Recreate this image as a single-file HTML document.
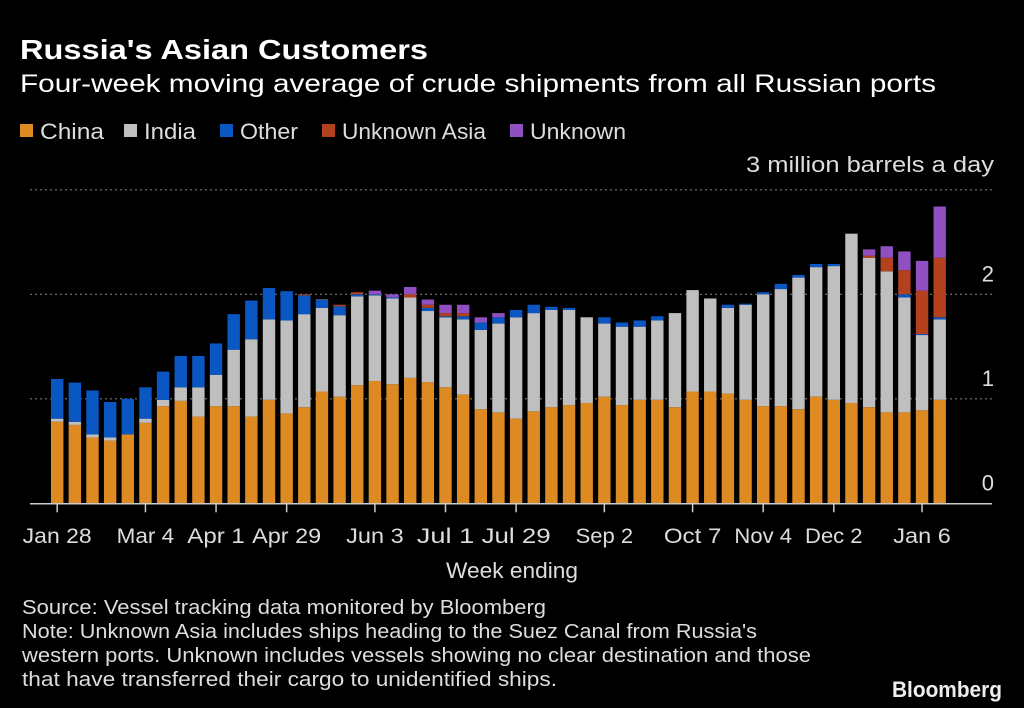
<!DOCTYPE html>
<html><head><meta charset="utf-8"><style>
html,body{margin:0;padding:0;background:#000;}
svg{display:block;font-family:"Liberation Sans",sans-serif;}
</style></head><body>
<svg id="chart" width="1024" height="708" viewBox="0 0 1024 708" xmlns="http://www.w3.org/2000/svg">
<rect width="1024" height="708" fill="#000"/>
<text x="20" y="59" fill="#fff" font-size="28" font-weight="bold" textLength="408" lengthAdjust="spacingAndGlyphs">Russia's Asian Customers</text>
<text x="20" y="92" fill="#fff" font-size="25" textLength="916" lengthAdjust="spacingAndGlyphs">Four-week moving average of crude shipments from all Russian ports</text>
<g id="legend" font-size="22" fill="#ddd"></g>
<text x="994" y="172" text-anchor="end" fill="#ddd" font-size="22" textLength="248" lengthAdjust="spacingAndGlyphs">3 million barrels a day</text>
<g id="grid"></g>
<g id="bars"></g>
<g id="xaxis"></g>
<text x="512" y="578" text-anchor="middle" fill="#ddd" font-size="22" textLength="132" lengthAdjust="spacingAndGlyphs">Week ending</text>
<g fill="#ddd" font-size="20">
<text x="22" y="614" textLength="524" lengthAdjust="spacingAndGlyphs">Source: Vessel tracking data monitored by Bloomberg</text>
<text x="22" y="638" textLength="735" lengthAdjust="spacingAndGlyphs">Note: Unknown Asia includes ships heading to the Suez Canal from Russia's</text>
<text x="22" y="662" textLength="789" lengthAdjust="spacingAndGlyphs">western ports. Unknown includes vessels showing no clear destination and those</text>
<text x="22" y="686" textLength="535" lengthAdjust="spacingAndGlyphs">that have transferred their cargo to unidentified ships.</text>
</g>
<text x="1002" y="697" text-anchor="end" fill="#eee" font-size="22" font-weight="bold" textLength="110" lengthAdjust="spacingAndGlyphs">Bloomberg</text>
</svg>
<script>
const china=[0.78,0.75,0.63,0.60,0.66,0.77,0.93,0.98,0.83,0.93,0.93,0.83,0.99,0.86,0.92,1.07,1.02,1.13,1.17,1.14,1.20,1.16,1.11,1.04,0.90,0.87,0.81,0.88,0.92,0.94,0.96,1.02,0.94,0.99,0.99,0.92,1.07,1.07,1.05,0.99,0.93,0.93,0.90,1.02,0.99,0.96,0.92,0.87,0.87,0.89,0.99];
const india=[0.03,0.03,0.03,0.03,0,0.04,0.06,0.13,0.28,0.30,0.54,0.74,0.77,0.89,0.89,0.80,0.78,0.85,0.82,0.82,0.77,0.68,0.67,0.72,0.76,0.85,0.97,0.94,0.93,0.91,0.82,0.70,0.75,0.70,0.76,0.90,0.97,0.89,0.82,0.91,1.07,1.12,1.26,1.24,1.28,1.62,1.43,1.35,1.10,0.72,0.77];
const other=[0.38,0.375,0.42,0.34,0.34,0.30,0.27,0.30,0.30,0.30,0.34,0.37,0.30,0.28,0.18,0.08,0.085,0.02,0.01,0.01,0,0.03,0.01,0.03,0.07,0.06,0.07,0.08,0.03,0.02,0,0.06,0.04,0.06,0.04,0,0,0,0.03,0.01,0.02,0.05,0.025,0.03,0.02,0,0,0,0.03,0.01,0.02];
const unknownAsia=[0,0,0,0,0,0,0,0,0,0,0,0,0,0,0.01,0.005,0.015,0.02,0,0,0.03,0.03,0.03,0.03,0,0,0,0,0,0,0,0,0,0,0,0,0,0,0,0,0,0,0,0,0,0,0.02,0.13,0.23,0.415,0.57];
const unknown=[0,0,0,0,0,0,0,0,0,0,0,0,0,0,0,0,0,0,0.035,0.03,0.07,0.05,0.08,0.08,0.05,0.04,0,0,0,0,0,0,0,0,0,0,0,0,0,0,0,0,0,0,0,0,0.06,0.11,0.18,0.285,0.49];
const tickIndex=[0,5,9,13,18,22,26,31,36,40,44,49];
const tickLabels=["Jan 28","Mar 4","Apr 1","Apr 29","Jun 3","Jul 1","Jul 29","Sep 2","Oct 7","Nov 4","Dec 2","Jan 6"];
const yTicks=[0,1,2,3];
const seriesNames=["China","India","Other","Unknown Asia","Unknown"];
const NS="http://www.w3.org/2000/svg";
const colors=["#de8a22","#bfbfbf","#0a56c2","#b4411d","#9150c2"];
const series=[china,india,other,unknownAsia,unknown];
const x0=51,pitch=17.65,bw=12.4,y0=503.3,ppu=104.5;
const xs=i=>x0+i*pitch;
const ys=v=>y0-v*ppu;
function mk(tag,attrs,parent){const e=document.createElementNS(NS,tag);for(const k in attrs)e.setAttribute(k,attrs[k]);parent.appendChild(e);return e;}
const grid=document.getElementById('grid');
yTicks.forEach(t=>{
  if(t>0){const l=mk('line',{x1:30,x2:992,y1:ys(t),y2:ys(t),stroke:'#777','stroke-width':1.2,'stroke-dasharray':'2,3'},grid);
  
  }
  if(t<3){const tx=mk('text',{x:994,y:ys(t)-13,'text-anchor':'end',fill:'#ddd','font-size':22},grid);
  tx.textContent=t;
  
  }
});
const bars=document.getElementById('bars');
china.forEach((_,i)=>{
  let acc=0;
  series.forEach((s,k)=>{
    const v=s[i];if(v<=0){return;}
    const r=mk('rect',{x:xs(i),y:ys(acc+v),width:bw,height:v*ppu,fill:colors[k]},bars);
    
    
    acc+=v;
  });
});
const xa=document.getElementById('xaxis');
const base=mk('line',{x1:30,x2:992,y1:y0+0.5,y2:y0+0.5,stroke:'#ccc','stroke-width':1.5},xa);


tickIndex.forEach((ti,j)=>{
  const cx=xs(ti)+bw/2;
  const tk=mk('line',{x1:cx,x2:cx,y1:y0,y2:y0+9,stroke:'#ccc','stroke-width':1.5},xa);
  
  
  const tx=mk('text',{x:cx,y:543,'text-anchor':'middle',fill:'#ddd','font-size':21,textLength:tickLabels[j].length*11.5,lengthAdjust:'spacingAndGlyphs'},xa);
  tx.textContent=tickLabels[j];
  
  
});
const lg=document.getElementById('legend');
const lx=[20,124,220,322,510],tl=[64,52,58,144,96];
seriesNames.forEach((n,k)=>{
  const g=mk('g',{},lg);
  
  
  mk('rect',{x:lx[k],y:124,width:13,height:13,fill:colors[k]},g);
  const t=mk('text',{x:lx[k]+20,y:139,fill:'#ddd','font-size':22,textLength:tl[k],lengthAdjust:'spacingAndGlyphs'},g);
  t.textContent=n;
});
</script>
</body></html>
